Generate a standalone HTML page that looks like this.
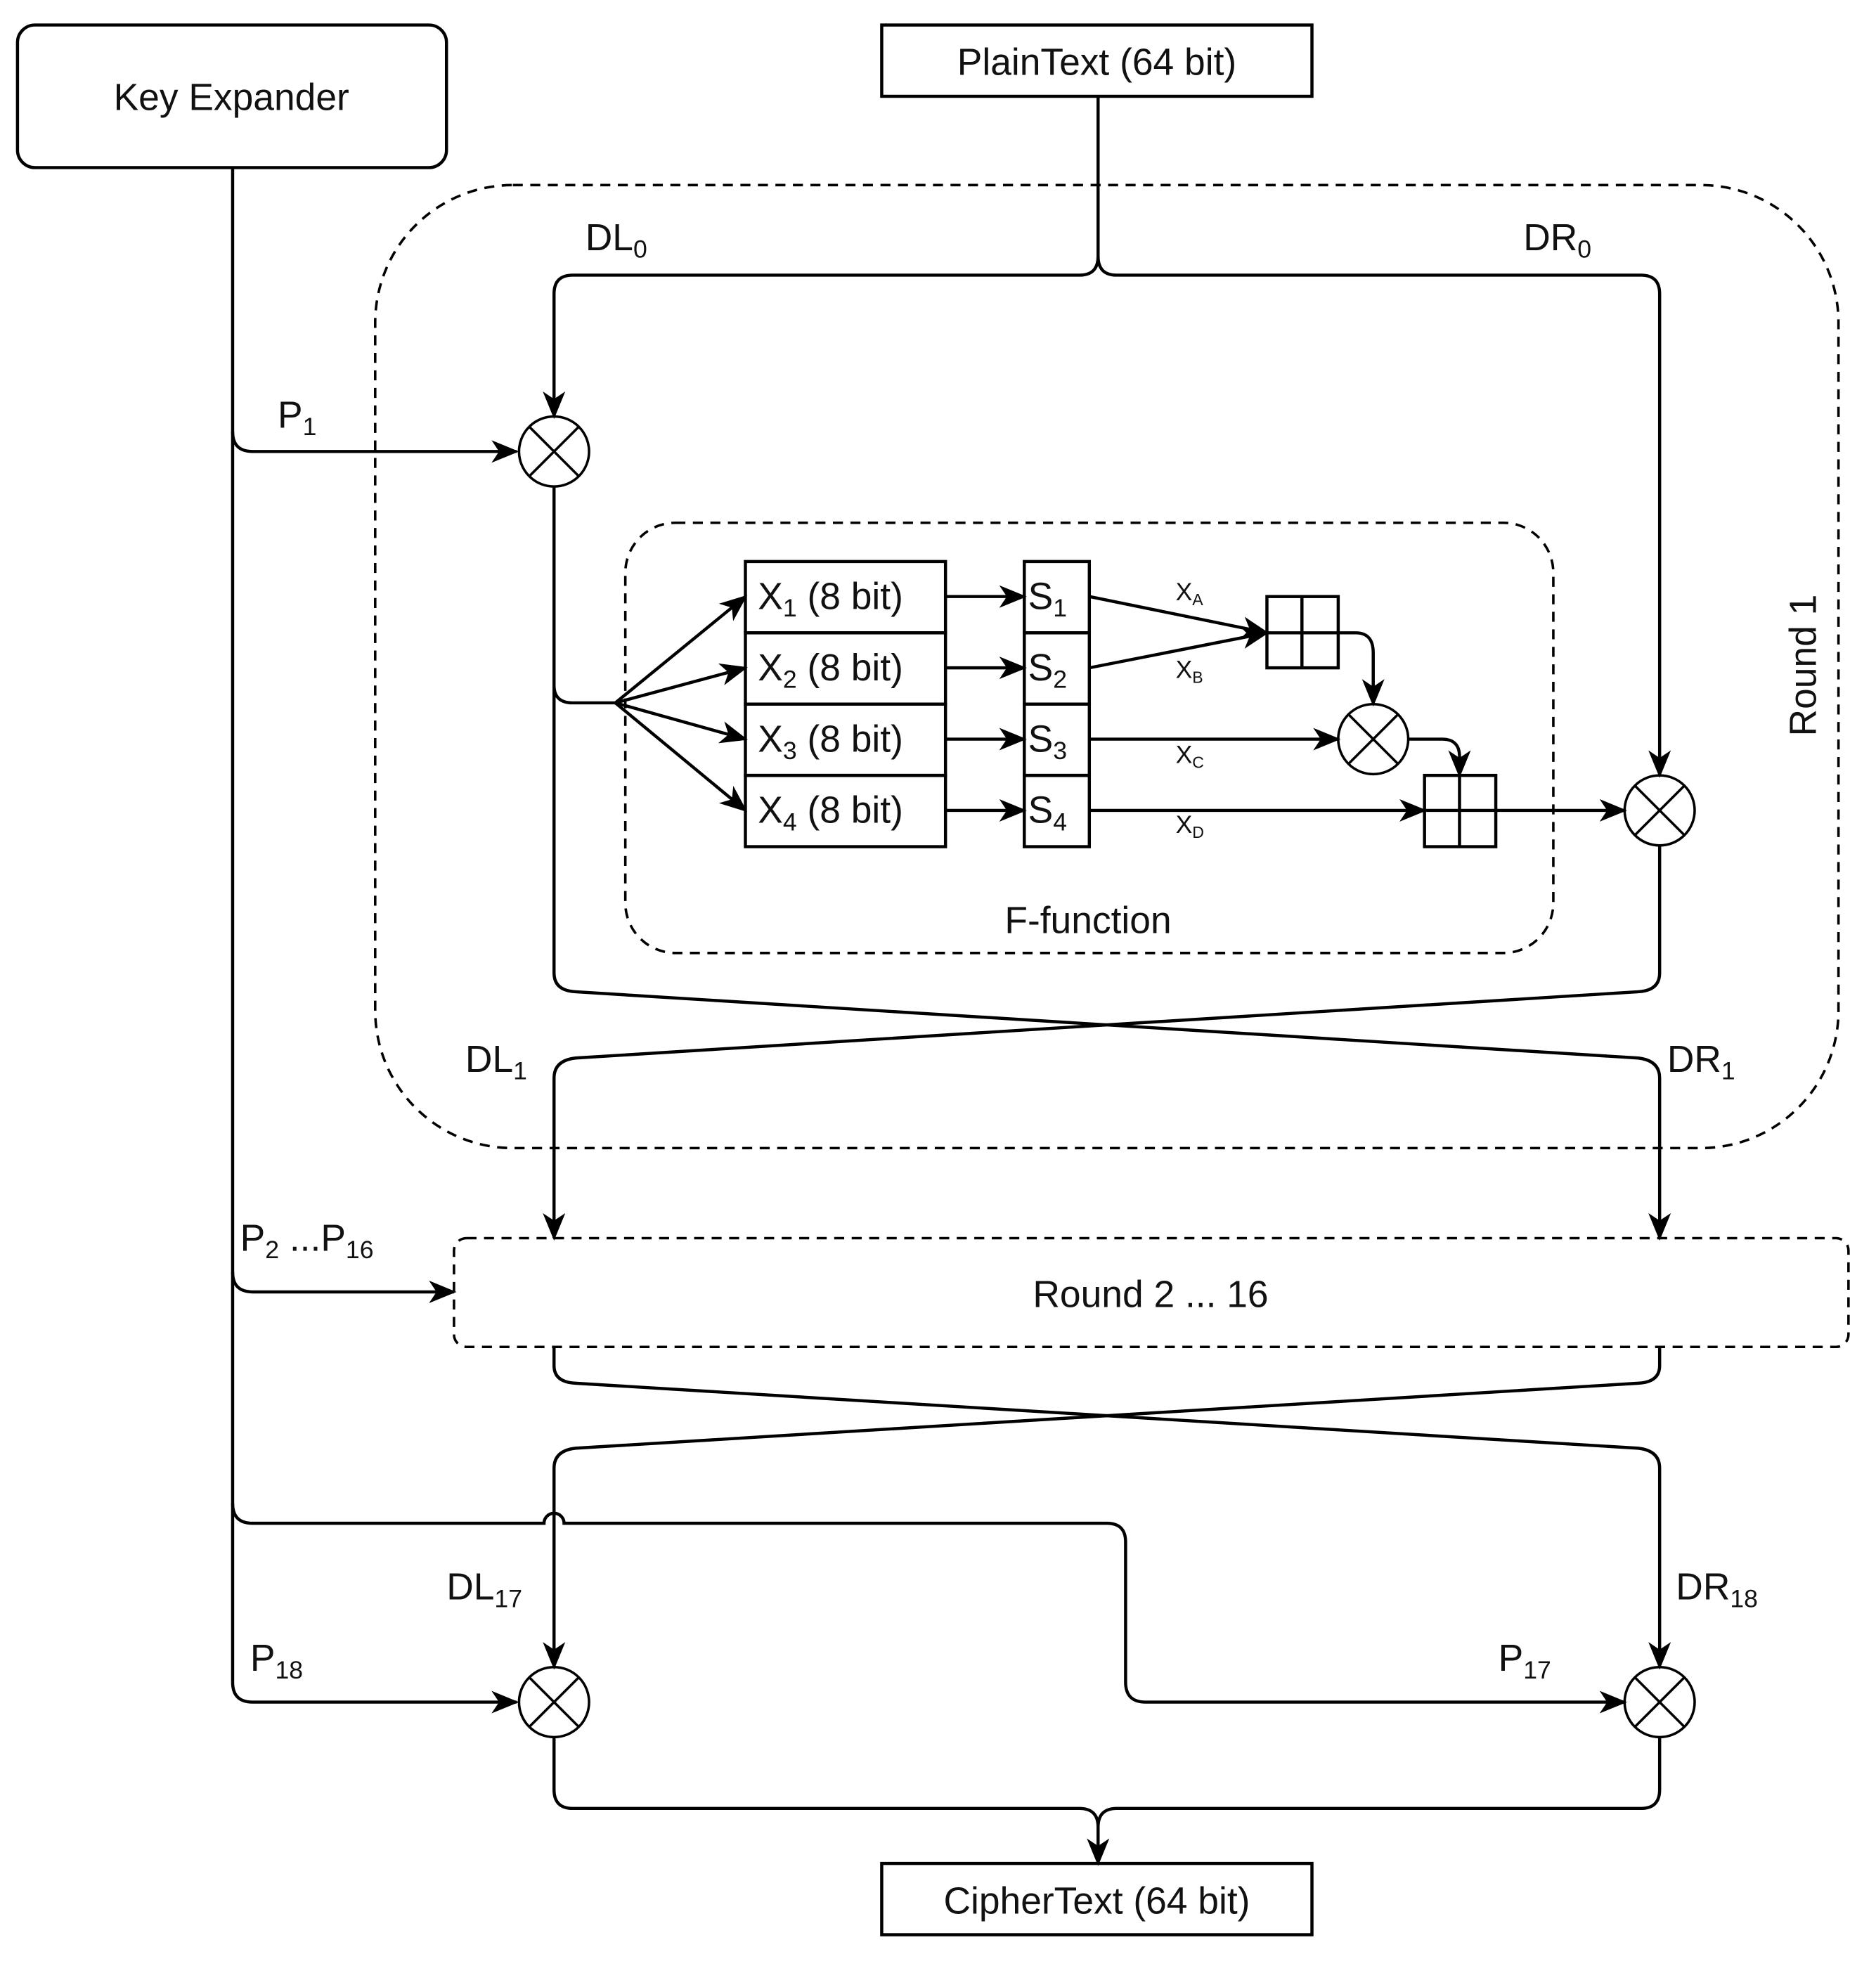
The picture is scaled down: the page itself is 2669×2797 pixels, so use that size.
<!DOCTYPE html>
<html><head><meta charset="utf-8"><style>
html,body{margin:0;padding:0;background:#fff}
svg{display:block}
text{font-family:"Liberation Sans",Arial,sans-serif;fill:#111}
</style></head><body>
<svg width="2669" height="2797" viewBox="0 0 1500 1572" preserveAspectRatio="none" xmlns="http://www.w3.org/2000/svg">
<defs>
<marker id="b" markerWidth="22" markerHeight="22" refX="20" refY="11" orient="auto" markerUnits="userSpaceOnUse" viewBox="0 0 22 22">
<path d="M0,2 L22,11 L0,20 L6,11 Z" fill="#000"/></marker>
</defs>
<g fill="none" stroke="#000" stroke-width="2.5">
<rect x="14" y="20" width="343" height="114" rx="14" ry="14"/>
<rect x="705" y="20" width="344" height="57"/>
<rect x="705" y="1490" width="344" height="57"/>
<rect x="300" y="148" width="1170" height="770" rx="110" ry="110" stroke-dasharray="8,6" stroke-width="2"/>
<rect x="500" y="418" width="742" height="344" rx="40" ry="40" stroke-dasharray="8,6" stroke-width="2"/>
<rect x="363" y="990" width="1115" height="87" rx="10" ry="10" stroke-dasharray="8,6" stroke-width="2"/>
<path d="M186,134 V1345 Q186,1361 202,1361 H413" marker-end="url(#b)"/>
<path d="M186,345 Q186,361 202,361 H413" marker-end="url(#b)"/>
<path d="M186,1017 Q186,1033 202,1033 H363" marker-end="url(#b)"/>
<path d="M186,1202 Q186,1218 202,1218 H435 A8,8 0 0 1 451,1218 H885 Q900,1218 900,1233 V1345 Q900,1361 916,1361 H1299" marker-end="url(#b)"/>
<path d="M878,77 V205 Q878,220 863,220 H458 Q443,220 443,235 V333" marker-end="url(#b)"/>
<path d="M878,205 Q878,220 893,220 H1312 Q1327,220 1327,235 V620" marker-end="url(#b)"/>
<g stroke-width="2">
<circle cx="443" cy="361" r="28"/><path d="M423,341 L463,381 M463,341 L423,381"/>
<circle cx="1327" cy="648" r="28"/><path d="M1307,628 L1347,668 M1347,628 L1307,668"/>
<circle cx="1098" cy="591" r="28"/><path d="M1078,571 L1118,611 M1118,571 L1078,611"/>
<circle cx="443" cy="1361" r="28"/><path d="M423,1341 L463,1381 M463,1341 L423,1381"/>
<circle cx="1327" cy="1361" r="28"/><path d="M1307,1341 L1347,1381 M1347,1341 L1307,1381"/>
</g>
<path d="M443,548 Q443,562 458,562 H492"/>
<path d="M492,562 L596,477" marker-end="url(#b)"/>
<path d="M492,562 L596,534" marker-end="url(#b)"/>
<path d="M492,562 L596,591" marker-end="url(#b)"/>
<path d="M492,562 L596,648" marker-end="url(#b)"/>
<rect x="596" y="449" width="160" height="57"/><rect x="596" y="506" width="160" height="57"/>
<rect x="596" y="563" width="160" height="57"/><rect x="596" y="620" width="160" height="57"/>
<rect x="819" y="449" width="52" height="57"/><rect x="819" y="506" width="52" height="57"/>
<rect x="819" y="563" width="52" height="57"/><rect x="819" y="620" width="52" height="57"/>
<path d="M756,477 H819" marker-end="url(#b)"/><path d="M756,534 H819" marker-end="url(#b)"/>
<path d="M756,591 H819" marker-end="url(#b)"/><path d="M756,648 H819" marker-end="url(#b)"/>
<path d="M871,477 L1013,506" marker-end="url(#b)"/>
<path d="M871,534 L1013,506" marker-end="url(#b)"/>
<rect x="1013" y="477" width="57" height="57"/><path d="M1041,477 V534 M1013,506 H1070"/>
<path d="M1070,506 H1084 Q1098,506 1098,522 V563" marker-end="url(#b)"/>
<path d="M871,591 H1070" marker-end="url(#b)"/>
<path d="M1126,591 H1153 Q1167,591 1167,605 V620" marker-end="url(#b)"/>
<rect x="1139" y="620" width="57" height="57"/><path d="M1167,620 V677 M1139,648 H1196"/>
<path d="M871,648 H1139" marker-end="url(#b)"/>
<path d="M1196,648 H1299" marker-end="url(#b)"/>
<path d="M443,389 V778 Q443,792 460,793 L1310,846 Q1327,848 1327,862 V990" marker-end="url(#b)"/>
<path d="M1327,676 V778 Q1327,792 1310,793 L460,846 Q443,848 443,862 V990" marker-end="url(#b)"/>
<path d="M443,1077 V1092 Q443,1105 460,1106 L1310,1158 Q1327,1160 1327,1174 V1333" marker-end="url(#b)"/>
<path d="M1327,1077 V1092 Q1327,1105 1310,1106 L460,1158 Q443,1160 443,1174 V1333" marker-end="url(#b)"/>
<path d="M443,1389 V1431 Q443,1446 458,1446 H863 Q878,1446 878,1461 V1490" marker-end="url(#b)"/>
<path d="M1327,1389 V1431 Q1327,1446 1312,1446 H893 Q878,1446 878,1461"/>
</g>
<g font-size="30">
<text x="185" y="88" text-anchor="middle">Key Expander</text>
<text x="877" y="60" text-anchor="middle">PlainText (64 bit)</text>
<text x="877" y="1530" text-anchor="middle">CipherText (64 bit)</text>
<text x="920" y="1045" text-anchor="middle">Round 2 ... 16</text>
<text x="870" y="746" text-anchor="middle">F-function</text>
<text x="1452" y="532" text-anchor="middle" transform="rotate(-90 1452 532)">Round 1</text>
<text x="468" y="200">DL<tspan font-size="20" dy="6">0</tspan></text>
<text x="1218" y="200">DR<tspan font-size="20" dy="6">0</tspan></text>
<text x="222" y="342">P<tspan font-size="20" dy="6">1</tspan></text>
<text x="372" y="857">DL<tspan font-size="20" dy="6">1</tspan></text>
<text x="1333" y="857">DR<tspan font-size="20" dy="6">1</tspan></text>
<text x="192" y="1000">P<tspan font-size="20" dy="6">2</tspan><tspan dy="-6"> ...P</tspan><tspan font-size="20" dy="6">16</tspan></text>
<text x="357" y="1279">DL<tspan font-size="20" dy="6">17</tspan></text>
<text x="1340" y="1279">DR<tspan font-size="20" dy="6">18</tspan></text>
<text x="200" y="1336">P<tspan font-size="20" dy="6">18</tspan></text>
<text x="1198" y="1336">P<tspan font-size="20" dy="6">17</tspan></text>
<text x="606" y="487">X<tspan font-size="20" dy="6">1</tspan><tspan dy="-6"> (8 bit)</tspan></text>
<text x="606" y="544">X<tspan font-size="20" dy="6">2</tspan><tspan dy="-6"> (8 bit)</tspan></text>
<text x="606" y="601">X<tspan font-size="20" dy="6">3</tspan><tspan dy="-6"> (8 bit)</tspan></text>
<text x="606" y="658">X<tspan font-size="20" dy="6">4</tspan><tspan dy="-6"> (8 bit)</tspan></text>
<text x="822" y="487">S<tspan font-size="20" dy="6">1</tspan></text>
<text x="822" y="544">S<tspan font-size="20" dy="6">2</tspan></text>
<text x="822" y="601">S<tspan font-size="20" dy="6">3</tspan></text>
<text x="822" y="658">S<tspan font-size="20" dy="6">4</tspan></text>
</g>
<g font-size="20">
<text x="940" y="480">X<tspan font-size="13" dy="4">A</tspan></text>
<text x="940" y="542">X<tspan font-size="13" dy="4">B</tspan></text>
<text x="940" y="610">X<tspan font-size="13" dy="4">C</tspan></text>
<text x="940" y="666">X<tspan font-size="13" dy="4">D</tspan></text>
</g>
</svg>
</body></html>
